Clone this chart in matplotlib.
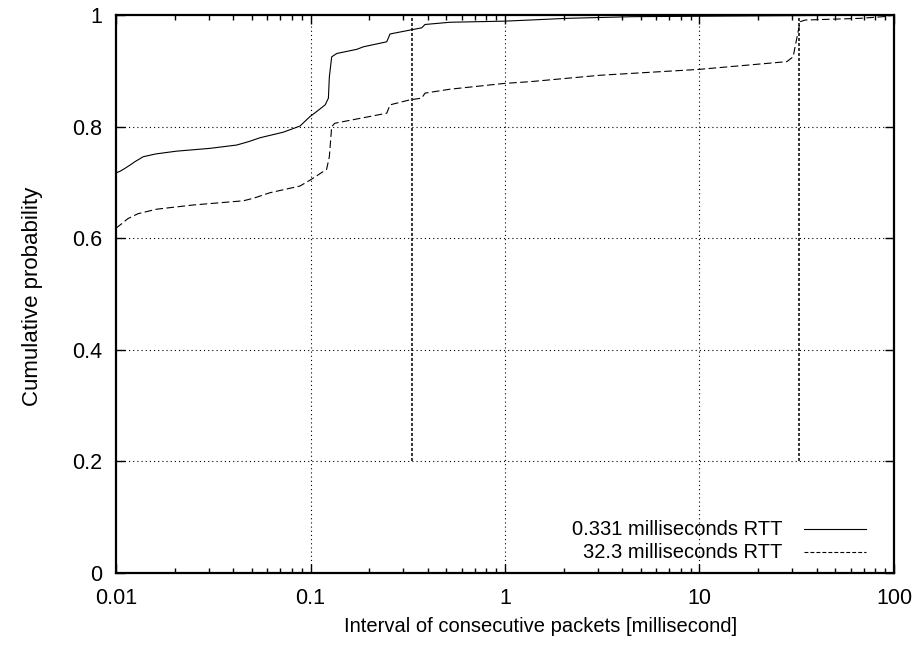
import matplotlib
matplotlib.use("Agg")
import matplotlib.pyplot as plt
from matplotlib.lines import Line2D
from matplotlib.ticker import FixedLocator, LogLocator, NullFormatter

plt.rcParams['font.family'] = ['Liberation Sans', 'DejaVu Sans']
plt.rcParams['lines.scale_dashes'] = False

# CDF of packet intervals, short-RTT path
fast_x = [0.01, 0.0105, 0.0111, 0.0118, 0.0125, 0.0138, 0.016, 0.0205, 0.0304,
          0.0418, 0.048, 0.055, 0.0725, 0.0883, 0.0994, 0.1076, 0.119, 0.1236,
          0.125, 0.1285, 0.1364, 0.173, 0.187, 0.2466, 0.2564, 0.325, 0.373,
          0.388, 0.521, 1.0, 1.345, 2.07, 4.5, 100]
fast_y = [0.717, 0.720, 0.725, 0.731, 0.737, 0.746, 0.751, 0.756, 0.761,
          0.767, 0.773, 0.780, 0.790, 0.801, 0.818, 0.827, 0.839, 0.851,
          0.889, 0.925, 0.931, 0.9385, 0.943, 0.952, 0.966, 0.973, 0.977,
          0.983, 0.987, 0.989, 0.991, 0.994, 0.997, 1.0]

# CDF of packet intervals, long-RTT path
slow_x = [0.01, 0.0108, 0.0115, 0.013, 0.0162, 0.0249, 0.0451, 0.0508, 0.0619,
          0.0883, 0.0994, 0.121, 0.125, 0.1285, 0.1333, 0.2466, 0.2564, 0.325,
          0.373, 0.388, 0.521, 1.0, 1.345, 3.08, 10, 28.1, 30.3, 31.5, 32.9,
          35, 66.8, 88, 100]
slow_y = [0.618, 0.627, 0.635, 0.644, 0.652, 0.6595, 0.667, 0.6715, 0.6815,
          0.6935, 0.704, 0.7234, 0.746, 0.800, 0.806, 0.824, 0.839, 0.848,
          0.851, 0.860, 0.867, 0.8775, 0.8805, 0.892, 0.9026, 0.9164, 0.925,
          0.955, 0.988, 0.991, 0.994, 0.997, 1.0]

rtt_values = [0.331, 32.3]
series_labels = ["0.331 milliseconds RTT", "32.3 milliseconds RTT"]

x_ticks = [0.01, 0.1, 1, 10, 100]
x_tick_labels = ["0.01", "0.1", "1", "10", "100"]
y_ticks = [0, 0.2, 0.4, 0.6, 0.8, 1.0]
y_tick_labels = ["0", "0.2", "0.4", "0.6", "0.8", "1"]

fig = plt.figure(figsize=(9.2, 6.47), dpi=100)
ax = fig.add_axes([116 / 920, 1 - 573 / 647, 778 / 920, 558 / 647])

ax.set_xscale('log')
ax.set_xlim(0.01, 100)
ax.set_ylim(0, 1)

# dotted grid
grid_kw = dict(color='black', lw=0.8, dashes=(0.8, 2.2), zorder=1)
for gx in x_ticks[1:-1]:
    ax.axvline(gx, **grid_kw)
for gy in y_ticks[1:-1]:
    ax.axhline(gy, **grid_kw)

# RTT markers
for r in rtt_values:
    ax.plot([r, r], [0.2, 1.0], color='black', lw=1.1, dashes=(2.2, 1.4), zorder=2)

ax.plot(fast_x, fast_y, color='black', lw=0.8, zorder=3)
ax.plot(slow_x, slow_y, color='black', lw=0.8, dashes=(5.5, 2.5), zorder=3)

# key
fs = 14.5
tick_fs = 15.5
rows = [0.078, 0.0376]
styles = [dict(), dict(dashes=(2.8, 1.5))]
for lab, yy, st in zip(series_labels, rows, styles):
    ax.text(0.857, yy, lab, transform=ax.transAxes, ha='right', va='center', fontsize=fs)
    ax.add_line(Line2D([0.884, 0.964], [yy, yy], transform=ax.transAxes,
                       color='black', lw=0.8, **st))

for sp in ax.spines.values():
    sp.set_linewidth(1.6)
    sp.set_zorder(5)

ax.xaxis.set_major_locator(FixedLocator(x_ticks))
ax.set_xticklabels(x_tick_labels)
ax.xaxis.set_minor_locator(LogLocator(base=10, subs=range(2, 10)))
ax.xaxis.set_minor_formatter(NullFormatter())
ax.set_yticks(y_ticks)
ax.set_yticklabels(y_tick_labels)

ax.tick_params(which='both', direction='in', top=True, right=True, color='black')
ax.tick_params(which='major', length=6.5, width=1.0, labelsize=tick_fs)
ax.tick_params(which='minor', length=3.6, width=1.0)
ax.tick_params(axis='x', which='major', pad=11)
ax.tick_params(axis='y', which='major', pad=10)

fig.text(541 / 920, 1 - 627 / 647, "Interval of consecutive packets [millisecond]",
         fontsize=fs, ha='center', va='center')
fig.text(33 / 920, 1 - 296 / 647, "Cumulative probability",
         fontsize=16, rotation=90, ha='center', va='center')

fig.savefig("out.png", dpi=100)
